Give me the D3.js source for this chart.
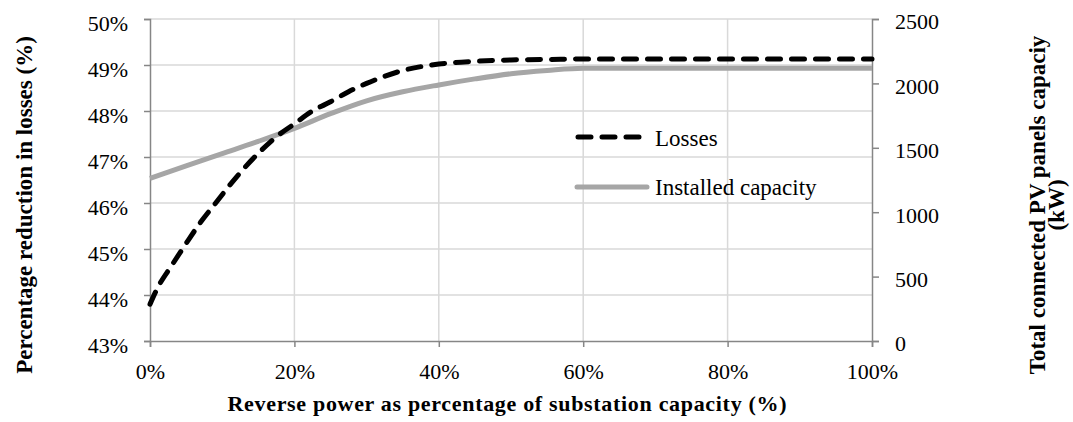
<!DOCTYPE html>
<html>
<head>
<meta charset="utf-8">
<script src="https://cdn.jsdelivr.net/npm/d3@7"></script>
<style>
  html, body { margin: 0; padding: 0; background: #fff; }
  svg { display: block; font-family: "Liberation Serif", "Times New Roman", serif; }
</style>
</head>
<body>
<svg id="chart" width="1073" height="422"></svg>
<script>
// Reverse power (% of substation capacity)
const reversePower = [0, 1, 3, 5, 7, 9, 11, 13, 15, 17.5, 20, 22.5, 25, 27.5, 30, 35, 40, 45, 50, 55, 60, 70, 80, 90, 100];
// Percentage reduction in losses (%)
const lossReduction = [43.8, 44.14, 44.64, 45.12, 45.58, 45.98, 46.38, 46.75, 47.08, 47.44, 47.72, 48.0, 48.2, 48.42, 48.6, 48.88, 49.02, 49.08, 49.11, 49.12, 49.13, 49.13, 49.13, 49.13, 49.13];
// Total connected PV panel capacity (kW)
const capacityX = [0, 5, 10, 15, 20, 25, 30, 35, 40, 45, 50, 55, 60, 65, 70, 80, 90, 100];
const installedCapacity = [1263, 1360, 1455, 1550, 1651, 1765, 1865, 1935, 1988, 2035, 2075, 2100, 2117, 2117, 2117, 2117, 2117, 2117];

const xTicks = [0, 20, 40, 60, 80, 100];
const leftTicks = [43, 44, 45, 46, 47, 48, 49, 50];
const rightTicks = [0, 500, 1000, 1500, 2000, 2500];

const seriesNames = ["Losses", "Installed capacity"];

const svg = d3.select("#chart");
const plotLeft = 150, plotRight = 872, plotTop = 19, plotBottom = 341;

const x = d3.scaleLinear().domain([0, 100]).range([plotLeft, plotRight]);
const yL = d3.scaleLinear().domain([43, 50]).range([plotBottom, plotTop]);
const yR = d3.scaleLinear().domain([0, 2500]).range([plotBottom, plotTop]);

const gridColor = "#d9d9d9", axisColor = "#868686";

// gridlines
const grid = svg.append("g");
grid.selectAll("line.h").data(leftTicks.slice(1)).join("line")
  .attr("class", "h")
  .attr("x1", plotLeft).attr("x2", plotRight)
  .attr("y1", d => yL(d)).attr("y2", d => yL(d))
  .attr("stroke", gridColor).attr("stroke-width", 1.5);
grid.selectAll("line.v").data(xTicks.slice(1, -1)).join("line")
  .attr("class", "v")
  .attr("x1", d => x(d)).attr("x2", d => x(d))
  .attr("y1", plotTop).attr("y2", plotBottom)
  .attr("stroke", gridColor).attr("stroke-width", 1.5);

// axes
const fmtPct = d => d + "%";
const styleAxis = g => {
  g.select(".domain").attr("stroke", axisColor).attr("stroke-width", 1.5);
  g.selectAll(".tick line").attr("stroke", axisColor).attr("stroke-width", 1.5);
  g.selectAll(".tick text").attr("fill", "#000")
    .style("font-family", "'Liberation Serif', 'Times New Roman', serif")
    .style("font-size", "22px");
};

svg.append("g").attr("transform", `translate(0,${plotBottom})`)
  .call(d3.axisBottom(x).tickValues(xTicks).tickFormat(fmtPct).tickSizeOuter(0).tickSize(6).tickPadding(16))
  .call(styleAxis);

svg.append("g").attr("transform", `translate(${plotLeft},0)`)
  .call(d3.axisLeft(yL).tickValues(leftTicks).tickFormat(fmtPct).tickSizeOuter(0).tickSize(6).tickPadding(16))
  .call(styleAxis)
  .selectAll(".tick text").attr("dy", "0.5em");

svg.append("g").attr("transform", `translate(${plotRight},0)`)
  .call(d3.axisRight(yR).tickValues(rightTicks).tickFormat(d3.format("d")).tickSizeOuter(0).tickSize(7).tickPadding(16))
  .call(styleAxis)
  .selectAll(".tick text").attr("dy", "0.45em");

// series
const capLine = d3.line().x((d, i) => x(capacityX[i])).y(d => yR(d)).curve(d3.curveMonotoneX);
const lossLine = d3.line().x((d, i) => x(reversePower[i])).y(d => yL(d)).curve(d3.curveMonotoneX);

svg.append("path").datum(installedCapacity)
  .attr("d", capLine).attr("fill", "none")
  .attr("stroke", "#a6a6a6").attr("stroke-width", 5).attr("stroke-linejoin", "round");

svg.append("path").datum(lossReduction)
  .attr("d", lossLine).attr("fill", "none")
  .attr("stroke", "#000").attr("stroke-width", 5)
  .attr("stroke-dasharray", "13,11").attr("stroke-linecap", "round");

// legend
const legend = svg.append("g");
legend.append("line").attr("x1", 578).attr("x2", 640).attr("y1", 137).attr("y2", 137)
  .attr("stroke", "#000").attr("stroke-width", 5)
  .attr("stroke-dasharray", "13,11").attr("stroke-linecap", "round");
legend.append("line").attr("x1", 577).attr("x2", 647).attr("y1", 187).attr("y2", 187)
  .attr("stroke", "#a6a6a6").attr("stroke-width", 5).attr("stroke-linecap", "round");
legend.selectAll("text").data(seriesNames).join("text")
  .attr("x", 655).attr("y", (d, i) => 146 + i * 49)
  .attr("font-size", 23).text(d => d);

// axis titles
svg.append("text")
  .attr("x", 507).attr("y", 411)
  .attr("text-anchor", "middle").attr("font-weight", "bold").attr("font-size", 22)
  .attr("textLength", 559).attr("lengthAdjust", "spacing")
  .text("Reverse power as percentage of substation capacity (%)");

svg.append("text")
  .attr("transform", "translate(32,205) rotate(-90)")
  .attr("text-anchor", "middle").attr("font-weight", "bold").attr("font-size", 23)
  .text("Percentage reduction in losses (%)");

const rt = svg.append("text")
  .attr("transform", "translate(1045,205) rotate(-90)")
  .attr("text-anchor", "middle").attr("font-weight", "bold").attr("font-size", 23);
rt.append("tspan").attr("x", 0).attr("dy", 0).text("Total connected PV  panels capaciy");
rt.append("tspan").attr("x", 0).attr("dy", 19).text("(kW)");
</script>
</body>
</html>
